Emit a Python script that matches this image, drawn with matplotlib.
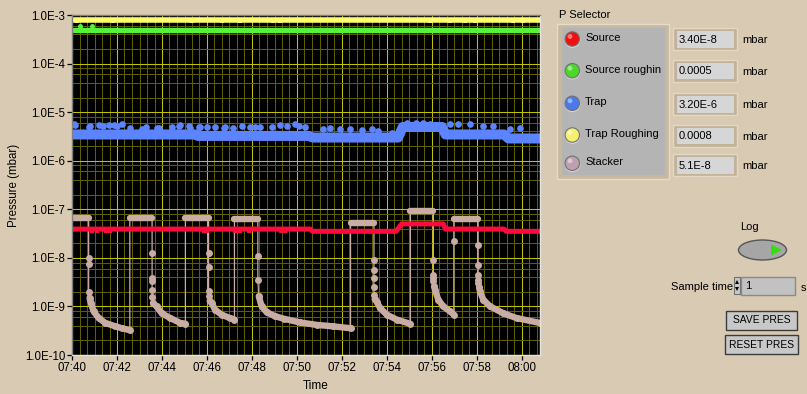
import numpy as np
import matplotlib
matplotlib.use("Agg")
import matplotlib.pyplot as plt
from matplotlib.patches import Rectangle, Circle, Ellipse, Polygon

plt.rcParams['font.family'] = ['Liberation Sans', 'DejaVu Sans']

W, H = 807, 394
BG = '#D9CAB3'

# time in minutes after 07:40
x_ticks = [0, 2, 4, 6, 8, 10, 12, 14, 16, 18, 20]
x_labels = ['07:40', '07:42', '07:44', '07:46', '07:48', '07:50',
            '07:52', '07:54', '07:56', '07:58', '08:00']
y_ticks = [1e-10, 1e-9, 1e-8, 1e-7, 1e-6, 1e-5, 1e-4, 1e-3]
y_labels = ['1.0E-10', '1.0E-9', '1.0E-8', '1.0E-7', '1.0E-6',
            '1.0E-5', '1.0E-4', '1.0E-3']

# Trap Roughing (yellow) and Source roughing (green)
yel_t = [0.0, 20.8]
yel_v = [8.07e-4, 8.07e-4]
yel_dip_t = [0.22, 1.82, 5.33, 6.67, 7.47, 8.93, 9.24, 15.9, 16.8, 17.47, 17.9, 19.6, 20.04]
yel_dip_v = [7.4e-4] * len(yel_dip_t)
grn_t = [0.0, 20.8]
grn_v = [5.02e-4, 5.02e-4]
grn_bump_t = [0.36, 0.89]
grn_bump_v = [5.9e-4, 5.9e-4]

# Trap (blue): band centre + upper outliers
trap_t = [0.0, 5.5, 5.6, 10.5, 10.7, 14.5, 14.7, 16.45, 16.6, 19.2, 19.4, 20.8]
trap_v = [3.47e-6, 3.47e-6, 3.24e-6, 3.24e-6, 3.0e-6, 3.0e-6, 4.95e-6, 4.95e-6,
          3.47e-6, 3.47e-6, 2.87e-6, 2.87e-6]
trap_out_t = [0.07, 0.13, 0.74, 0.8, 1.19, 1.39, 1.63, 1.85, 1.98, 2.22, 2.58, 3.11,
              3.3, 3.76, 3.85, 4.43, 4.74, 4.8, 5.19, 5.24, 5.63, 5.69, 5.98, 6.36,
              6.74, 6.8, 7.17, 7.54, 7.93, 8.13, 8.37, 8.89, 9.24, 9.56, 9.9, 10.07,
              10.37, 11.17, 11.47, 11.91, 12.36, 12.87, 13.32, 13.62, 14.21, 14.9,
              15.3, 15.6, 15.9, 16.8, 17.17, 17.69, 18.28, 18.73, 19.47, 19.91]
trap_out_v = [5.6e-6, 5.4e-6, 5.0e-6, 5.3e-6, 5.5e-6, 5.2e-6, 5.4e-6, 5.5e-6, 5.3e-6,
              5.6e-6, 4.8e-6, 4.6e-6, 5.0e-6, 4.8e-6, 4.7e-6, 5.0e-6, 5.3e-6, 5.5e-6,
              5.2e-6, 4.8e-6, 5.0e-6, 4.9e-6, 5.0e-6, 5.0e-6, 4.8e-6, 4.9e-6, 4.7e-6,
              5.1e-6, 5.0e-6, 5.0e-6, 4.9e-6, 5.0e-6, 5.4e-6, 5.2e-6, 5.6e-6, 5.3e-6,
              5.0e-6, 4.4e-6, 4.7e-6, 4.5e-6, 4.5e-6, 4.3e-6, 4.5e-6, 4.1e-6, 3.8e-6,
              5.9e-6, 6.0e-6, 5.9e-6, 5.8e-6, 5.6e-6, 5.6e-6, 5.6e-6, 5.3e-6, 5.3e-6,
              4.6e-6, 4.7e-6]

# Source (red)
src_t = [0.0, 10.6, 10.7, 14.4, 14.65, 16.5, 16.6, 19.2, 19.3, 20.8]
src_v = [3.91e-8, 3.91e-8, 3.52e-8, 3.52e-8, 5.0e-8, 5.0e-8, 3.92e-8, 3.92e-8,
         3.52e-8, 3.52e-8]
src_dip_t = [0.9, 1.1, 1.5, 1.7, 5.85, 6.0, 7.25, 7.45, 7.85, 9.3, 9.45]
src_dip_v = [3.6e-8] * len(src_dip_t)

# Stacker: plateaus, drop points, decays
stk_plat_start = [0.0, 2.57, 5.04, 7.22, 12.38, 15.04, 16.97]
stk_plat_end = [0.74, 3.56, 6.07, 8.26, 13.42, 16.06, 18.05]
stk_plat_v = [6.65e-8, 6.65e-8, 6.65e-8, 6.2e-8, 5.25e-8, 9.1e-8, 6.3e-8]
stk_drop_v = [
    [1.0e-8, 7.5e-9, 2.0e-9],
    [1.26e-8, 3.9e-9, 3.3e-9, 2.2e-9, 1.6e-9],
    [1.26e-8, 6.6e-9, 2.04e-9, 1.62e-9],
    [1.07e-8, 3.55e-9],
    [9.1e-9, 5.75e-9, 3.9e-9, 2.57e-9, 1.74e-9],
    [9.1e-9, 4.47e-9, 3.9e-9, 3.3e-9],
    [1.86e-8, 7.24e-9, 4.47e-9, 3.55e-9, 3.0e-9],
]
stk_decay_t = [
    [0.78, 0.84, 0.96, 1.19, 1.48, 1.93, 2.22, 2.57],
    [3.60, 3.76, 3.99, 4.37, 4.81, 5.04],
    [6.12, 6.21, 6.36, 6.65, 7.02, 7.22],
    [8.30, 8.43, 8.65, 9.02, 9.40, 10.13, 10.87, 11.61, 12.38],
    [13.45, 13.54, 13.69, 13.99, 14.43, 15.04],
    [16.10, 16.13, 16.28, 16.50, 16.80, 16.97],
    [18.10, 18.13, 18.28, 18.58, 19.17, 19.76, 20.8],
]
stk_decay_v = [
    [1.5e-9, 1.17e-9, 7.9e-10, 5.75e-10, 4.57e-10, 3.89e-10, 3.55e-10, 3.24e-10],
    [1.17e-9, 1.0e-9, 7.2e-10, 5.75e-10, 4.57e-10, 4.4e-10],
    [1.3e-9, 1.17e-9, 8.5e-10, 6.76e-10, 5.75e-10, 5.37e-10],
    [1.62e-9, 1.0e-9, 7.6e-10, 6.3e-10, 5.6e-10, 4.68e-10, 4.17e-10, 3.89e-10, 3.55e-10],
    [1.4e-9, 1.26e-9, 9.3e-10, 6.76e-10, 5.37e-10, 4.37e-10],
    [2.6e-9, 2.19e-9, 1.38e-9, 1.0e-9, 7.94e-10, 6.76e-10],
    [2.5e-9, 2.04e-9, 1.38e-9, 1.0e-9, 7.24e-10, 5.75e-10, 4.57e-10],
]
stk_rise_t = [16.97]
stk_rise_v = [2.19e-8]

# selector panel
sensor_names = ['Source', 'Source roughin', 'Trap', 'Trap Roughing', 'Stacker']
sensor_readings = ['3.40E-8', '0.0005', '3.20E-6', '0.0008', '5.1E-8']
led_colors = ['#F01010', '#4CD82A', '#4C78EE', '#F4F070', '#BFA0B0']

C_YEL, C_GRN, C_BLU, C_RED, C_STK = '#FFFF6E', '#55F23C', '#5C84FF', '#FF0A3C', '#C9ADA4'

fig = plt.figure(figsize=(W / 100, H / 100), dpi=100, facecolor=BG)
ax = fig.add_axes([72 / W, 1 - 355 / H, 468 / W, 340 / H])
ax.set_facecolor('black')
ax.set_yscale('log')
ax.set_xlim(0, 20.8)
ax.set_ylim(1e-10, 1e-3)

ax.set_xticks(x_ticks)
ax.set_xticklabels(x_labels)
ax.set_xticks(np.arange(0, 20.8, 1 / 3), minor=True)
ax.set_yticks(y_ticks)
ax.set_yticklabels(y_labels)
ax.set_yticks([m * 10.0 ** e for e in range(-10, -3) for m in (2, 4, 6, 8)], minor=True)
ax.yaxis.set_minor_formatter(plt.NullFormatter())
ax.grid(which='minor', color='#5E5E00', lw=0.75)
ax.grid(which='major', color='#C2C200', lw=0.75)
ax.set_axisbelow(True)
ax.tick_params(which='major', direction='out', length=3.5, width=0.9, color='black',
               labelsize=8.3, pad=1.5)
ax.tick_params(which='minor', length=0)
for s, c in [('left', '#7F7F7F'), ('top', '#7F7F7F'), ('right', '#E4E4E4'), ('bottom', '#E4E4E4')]:
    ax.spines[s].set_color(c)
    ax.spines[s].set_linewidth(1)

# series
ax.plot(yel_t, yel_v, color=C_YEL, lw=4.0, solid_capstyle='butt')
ax.plot(yel_dip_t, yel_dip_v, 's', color=C_YEL, ms=3.0, mew=0)
ax.plot(grn_t, grn_v, color=C_GRN, lw=3.8, solid_capstyle='butt')
ax.plot(grn_bump_t, grn_bump_v, 'o', color=C_GRN, ms=3.6, mew=0)

ax.plot(trap_t, trap_v, color=C_BLU, lw=7.2, solid_capstyle='butt')
ax.plot(trap_out_t, trap_out_v, 'o', color=C_BLU, ms=4.8, mew=0)

path_t, path_v = [], []
for i in range(len(stk_plat_v)):
    path_t += [stk_plat_start[i], stk_plat_end[i]]
    path_v += [stk_plat_v[i], stk_plat_v[i]]
    path_t += [stk_plat_end[i]] * len(stk_drop_v[i])
    path_v += stk_drop_v[i]
    path_t += stk_decay_t[i]
    path_v += stk_decay_v[i]
    for rt, rv in zip(stk_rise_t, stk_rise_v):
        if stk_decay_t[i][-1] <= rt and (i + 1 < len(stk_plat_start)) and rt <= stk_plat_start[i + 1]:
            path_t.append(rt)
            path_v.append(rv)
ax.plot(path_t, path_v, color=C_STK, lw=0.9)
for i in range(len(stk_plat_v)):
    ax.plot([stk_plat_start[i], stk_plat_end[i]], [stk_plat_v[i]] * 2, color=C_STK,
            lw=4.6, solid_capstyle='round')
    ax.plot([stk_plat_end[i]] * len(stk_drop_v[i]), stk_drop_v[i], 'o', color=C_STK,
            ms=5.0, mew=0)
    ax.plot(stk_decay_t[i], stk_decay_v[i], color=C_STK, lw=4.6, marker='o', ms=5.0,
            mew=0, solid_capstyle='round', solid_joinstyle='round')
ax.plot(stk_rise_t, stk_rise_v, 'o', color=C_STK, ms=5.0, mew=0)

ax.plot(src_t, src_v, color=C_RED, lw=3.6, solid_capstyle='butt')
ax.plot(src_dip_t, src_dip_v, 's', color=C_RED, ms=3.0, mew=0)

fig.text(14 / W, 1 - 185 / H, 'Pressure (mbar)', rotation=90, ha='center', va='center',
         fontsize=8.3)
fig.text(316 / W, 1 - 386 / H, 'Time', ha='center', va='center', fontsize=8.5)

# front-panel controls on the right
pa = fig.add_axes([0, 0, 1, 1])
pa.set_xlim(0, W)
pa.set_ylim(H, 0)
pa.axis('off')

pa.text(559, 15, 'P Selector', ha='left', va='center', fontsize=8)
pa.add_patch(Rectangle((557, 24), 112, 155, fc='#C8B89E', ec='#E6DCCB', lw=1))
pa.add_patch(Rectangle((561.5, 28), 103.5, 147, fc='#B4B4B4', ec='none'))

led_y = [39, 70.7, 103.3, 135, 163.3]
lab_y = [38.3, 70, 101.7, 134, 161.7]
box_y = [39.2, 70.8, 104.2, 135.8, 165.3]
for name, val, col, ly, ty, by in zip(sensor_names, sensor_readings, led_colors,
                                       led_y, lab_y, box_y):
    pa.add_patch(Circle((572.5, ly + 1), 7.8, fc='#D8D8D8', ec='none'))
    pa.add_patch(Circle((572.3, ly), 7.2, fc=col, ec='#707070', lw=0.8))
    pa.add_patch(Circle((570, ly - 2.5), 2.4, fc='white', ec='none', alpha=0.45))
    pa.text(585, ty, name, ha='left', va='center', fontsize=8, clip_on=True)
    pa.add_patch(Rectangle((673, by - 11), 64, 22, fc='#C2B298', ec='#E4D9C6', lw=1))
    pa.add_patch(Rectangle((676.5, by - 8), 57, 16.5, fc='#D6D6D6', ec='none'))
    pa.text(679, by + 0.5, val, ha='left', va='center', fontsize=8)
    pa.text(742, by + 1, 'mbar', ha='left', va='center', fontsize=8)

pa.text(749, 227, 'Log', ha='center', va='center', fontsize=8)
pa.add_patch(Ellipse((762.5, 250), 48, 20, fc='#A6A6A6', ec='#555555', lw=1))
pa.add_patch(Polygon([(771, 244.5), (771, 255.5), (782, 250)], closed=True,
                     fc='#33DD11', ec='none'))

pa.text(733, 287, 'Sample time', ha='right', va='center', fontsize=8)
pa.add_patch(Rectangle((734, 277), 6, 17, fc='#C8C8C8', ec='#707070', lw=0.8))
pa.add_patch(Polygon([(735, 284), (739, 284), (737, 280)], closed=True, fc='black', ec='none'))
pa.add_patch(Polygon([(735, 287), (739, 287), (737, 291)], closed=True, fc='black', ec='none'))
pa.add_patch(Rectangle((740.5, 276.5), 54, 18, fc='#C2C2C2', ec='#8A8A8A', lw=1))
pa.text(745, 286, '1', ha='left', va='center', fontsize=8)
pa.text(801, 288, 's', ha='left', va='center', fontsize=8)

for label, (bx, by, bw, bh) in zip(['SAVE PRES', 'RESET PRES'],
                                   [(726, 311, 71, 18.5), (725, 335, 72.5, 19)]):
    pa.add_patch(Rectangle((bx, by), bw, bh, fc='#C8C8C8', ec='#3C3C3C', lw=1))
    pa.text(bx + bw / 2, by + bh / 2, label, ha='center', va='center', fontsize=7.4)

fig.savefig('out.png', dpi=100, facecolor=BG)
